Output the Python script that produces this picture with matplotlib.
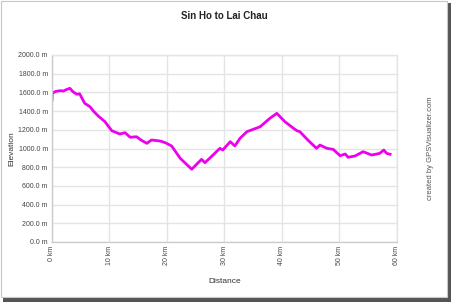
import matplotlib.pyplot as plt
from matplotlib.patches import Rectangle

plt.rcParams['font.family'] = ['Liberation Sans', 'DejaVu Sans']

# elevation profile (km, m)
distance_km = [0.0, 0.05, 0.6, 1.4, 2.0, 2.5, 3.1, 3.6, 4.3, 4.8, 5.7, 6.6,
               7.2, 8.0, 9.2, 10.4, 11.8, 12.7, 13.6, 14.7, 15.5, 16.5, 17.3,
               18.8, 19.7, 20.8, 22.3, 24.3, 26.0, 26.6, 28.0, 29.2, 29.7,
               31.0, 31.8, 32.7, 33.9, 35.0, 36.2, 37.9, 39.1, 40.5, 42.0,
               42.6, 43.1, 44.5, 46.0, 46.6, 47.8, 48.9, 50.1, 51.0, 51.5,
               52.7, 54.1, 55.6, 57.0, 57.7, 58.2, 58.8]
elevation_m = [1520, 1590, 1610, 1618, 1615, 1630, 1644, 1610, 1580, 1585,
               1483, 1447, 1400, 1350, 1287, 1190, 1155, 1169, 1120, 1126,
               1090, 1055, 1091, 1080, 1062, 1027, 895, 778, 884, 848, 930,
               1002, 984, 1073, 1027, 1109, 1180, 1205, 1233, 1323, 1376,
               1287, 1216, 1190, 1180, 1090, 1002, 1037, 1002, 991, 923, 941,
               906, 920, 966, 930, 948, 984, 948, 938]

y_ticks = [0, 200, 400, 600, 800, 1000, 1200, 1400, 1600, 1800, 2000]
x_ticks = [0, 10, 20, 30, 40, 50, 60]

fig = plt.figure(figsize=(4.52, 3.02), dpi=100)

# thumbnail frame with drop shadow
fig.patches.append(Rectangle((3 / 452, 0), 449 / 452, 299 / 302,
                             transform=fig.transFigure, facecolor='#555555',
                             edgecolor='none', zorder=-2))
fig.patches.append(Rectangle((0.5 / 452, 5 / 302), 447 / 452, 296.5 / 302,
                             transform=fig.transFigure, facecolor='white',
                             edgecolor='#c8c8c8', linewidth=0.8, zorder=-1))

ax = fig.add_axes([52 / 452, 1 - 242 / 302, 345 / 452, 187 / 302])
ax.plot(distance_km, elevation_m, color='#ee00ee', linewidth=2.0,
        solid_joinstyle='round')

ax.set_xlim(0, 60)
ax.set_ylim(0, 2000)
ax.set_xticks(x_ticks)
ax.set_xticklabels([f'{v} km' for v in x_ticks], rotation=90)
ax.set_yticks(y_ticks)
ax.set_yticklabels([f'{v:.1f} m' for v in y_ticks])
ax.tick_params(length=0, labelsize=5, labelcolor='#444444', pad=3)
ax.grid(True, color='#e4e4e4', linewidth=1)
ax.set_axisbelow(True)
for s in ax.spines.values():
    s.set_color('#e4e4e4')
    s.set_linewidth(1)
ax.spines['left'].set_color('#cccccc')
ax.spines['bottom'].set_color('#cccccc')

ax.set_xlabel('Distance', fontsize=6, color='#333333', labelpad=9)
ax.set_ylabel('Elevation', fontsize=6, color='#333333', labelpad=2)
ax.set_title('Sin Ho to Lai Chau', fontsize=7, fontweight='bold',
             color='#222222', pad=26)

fig.text(431 / 452, 1 - 148 / 302, 'created by GPSVisualizer.com',
         rotation=90, fontsize=5.5, color='#555555', ha='center', va='center')

fig.savefig('out.png', dpi=100)
